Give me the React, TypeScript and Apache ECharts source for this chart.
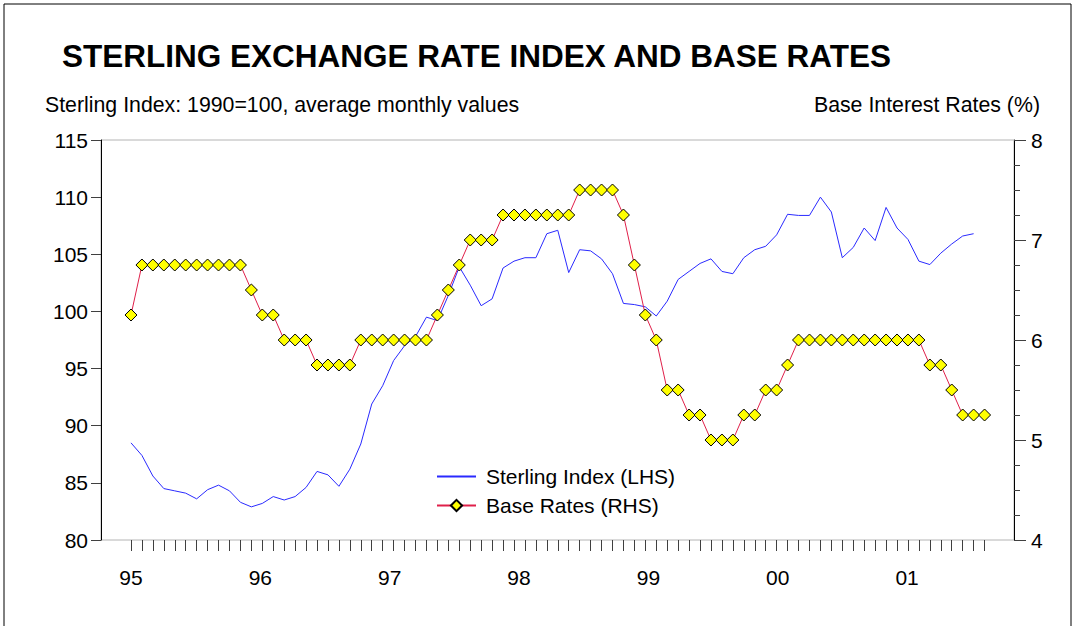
import React, { useEffect, useRef } from "react";
import * as echarts from "echarts";

// Year labels on the x axis (Jan of each year)
const yearLabels = ["95", "96", "97", "98", "99", "00", "01"];

// Sterling exchange rate index, monthly, Jan 1995 – Jun 2001 (1990 = 100)
const sterlingIndex = [
  88.5, 87.4, 85.6, 84.5, 84.3, 84.1, 83.6, 84.4, 84.8, 84.3,
  83.3, 82.9, 83.2, 83.8, 83.5, 83.8, 84.6, 86.0, 85.7, 84.7,
  86.2, 88.4, 91.9, 93.5, 95.7, 97.0, 97.8, 99.5, 99.2, 101.4,
  103.9, 102.3, 100.5, 101.1, 103.8, 104.4, 104.7, 104.7, 106.8, 107.1,
  103.4, 105.4, 105.3, 104.6, 103.3, 100.7, 100.6, 100.4, 99.6, 100.9,
  102.8, 103.5, 104.2, 104.6, 103.5, 103.3, 104.7, 105.4, 105.7, 106.7,
  108.5, 108.4, 108.4, 110.0, 108.7, 104.7, 105.6, 107.3, 106.2, 109.1,
  107.3, 106.3, 104.4, 104.1, 105.1, 105.9, 106.6, 106.8,
];

// UK base rates (%), monthly, Jan 1995 – Jul 2001
const baseRates = [
  6.25, 6.75, 6.75, 6.75, 6.75, 6.75, 6.75, 6.75, 6.75, 6.75,
  6.75, 6.5, 6.25, 6.25, 6.0, 6.0, 6.0, 5.75, 5.75, 5.75,
  5.75, 6.0, 6.0, 6.0, 6.0, 6.0, 6.0, 6.0, 6.25, 6.5,
  6.75, 7.0, 7.0, 7.0, 7.25, 7.25, 7.25, 7.25, 7.25, 7.25,
  7.25, 7.5, 7.5, 7.5, 7.5, 7.25, 6.75, 6.25, 6.0, 5.5,
  5.5, 5.25, 5.25, 5.0, 5.0, 5.0, 5.25, 5.25, 5.5, 5.5,
  5.75, 6.0, 6.0, 6.0, 6.0, 6.0, 6.0, 6.0, 6.0, 6.0,
  6.0, 6.0, 6.0, 5.75, 5.75, 5.5, 5.25, 5.25, 5.25,
];

const seriesNames = ["Sterling Index (LHS)", "Base Rates (RHS)"];

const FONT = "'Liberation Sans', Arial, Helvetica, sans-serif";
const FS = 21;
const LABEL_STEP = 11.82; // spacing of year labels, in months on the axis

export default function App() {
  const ref = useRef<HTMLDivElement>(null);

  useEffect(() => {
    if (!ref.current) return;
    const chart = echarts.init(ref.current, undefined, { renderer: "svg" });
    const monthTicks = baseRates.map((_, i) => i);
    const labelValues = yearLabels.map((_, k) => k * LABEL_STEP);

    chart.setOption({
      animation: false,
      backgroundColor: "#ffffff",
      textStyle: { fontFamily: FONT },
      grid: {
        left: 101,
        right: 62,
        top: 140,
        bottom: 86,
        show: true,
        borderColor: "#b4b4b4",
        borderWidth: 1,
        backgroundColor: "transparent",
      },
      legend: {
        orient: "vertical",
        left: 431,
        top: 461,
        itemWidth: 39,
        itemHeight: 14,
        itemGap: 8,
        data: [
          { name: seriesNames[0], itemStyle: { opacity: 0 } },
          { name: seriesNames[1] },
        ],
        textStyle: {
          fontSize: FS,
          color: "#000",
          fontFamily: FONT,
          padding: [0, 0, 0, 5],
        },
      },
      xAxis: {
        type: "value",
        min: -2.74,
        max: 80.69,
        axisLine: { show: false },
        splitLine: { show: false },
        axisTick: {
          show: true,
          length: 11,
          customValues: monthTicks,
          lineStyle: { color: "#404040", width: 1 },
        },
        axisLabel: {
          customValues: labelValues,
          margin: 27,
          fontSize: FS,
          color: "#000",
          fontFamily: FONT,
          formatter: (v: number) => yearLabels[Math.round(v / LABEL_STEP)] ?? "",
        },
      },
      yAxis: [
        {
          type: "value",
          position: "left",
          min: 80,
          max: 115,
          interval: 5,
          axisLine: { show: true, onZero: false, lineStyle: { color: "#000", width: 1 } },
          axisTick: { show: true, length: 10, lineStyle: { color: "#404040" } },
          splitLine: { show: false },
          axisLabel: { fontSize: FS, color: "#000", margin: 13, fontFamily: FONT },
        },
        {
          type: "value",
          position: "right",
          min: 4,
          max: 8,
          interval: 1,
          axisLine: { show: true, onZero: false, lineStyle: { color: "#000", width: 1 } },
          axisTick: { show: true, length: 12, lineStyle: { color: "#404040" } },
          minorTick: { show: true, splitNumber: 4, length: 6, lineStyle: { color: "#404040" } },
          splitLine: { show: false },
          minorSplitLine: { show: false },
          axisLabel: { fontSize: FS, color: "#000", margin: 17, fontFamily: FONT },
        },
      ],
      graphic: [
        {
          type: "rect",
          shape: { x: 4, y: 4, width: 1067, height: 700 },
          style: { fill: "none", stroke: "#000", lineWidth: 1 },
          silent: true,
        },
        {
          type: "text",
          x: 62,
          y: 56,
          style: {
            text: "STERLING EXCHANGE RATE INDEX AND BASE RATES",
            font: `bold 31.5px ${FONT}`,
            fill: "#000",
            textVerticalAlign: "middle",
            verticalAlign: "middle",
          },
        },
        {
          type: "text",
          x: 45,
          y: 105,
          style: {
            text: "Sterling Index: 1990=100, average monthly values",
            font: `21.3px ${FONT}`,
            fill: "#000",
            textVerticalAlign: "middle",
            verticalAlign: "middle",
          },
        },
        {
          type: "text",
          x: 1040,
          y: 105,
          style: {
            text: "Base Interest Rates (%)",
            font: `21.3px ${FONT}`,
            fill: "#000",
            textAlign: "right",
            align: "right",
            textVerticalAlign: "middle",
            verticalAlign: "middle",
          },
        },
      ],
      series: [
        {
          name: seriesNames[0],
          type: "line",
          yAxisIndex: 0,
          data: sterlingIndex.map((v, i) => [i, v]),
          symbol: "none",
          showSymbol: false,
          lineStyle: { color: "#2a2aff", width: 1 },
          itemStyle: { color: "#2a2aff" },
          z: 2,
        },
        {
          name: seriesNames[1],
          type: "line",
          yAxisIndex: 1,
          data: baseRates.map((v, i) => [i, v]),
          symbol: "diamond",
          symbolSize: 12,
          lineStyle: { color: "#e0204a", width: 1 },
          itemStyle: { color: "#ffff00", borderColor: "#000", borderWidth: 1 },
          z: 3,
        },
      ],
    });
    return () => chart.dispose();
  }, []);

  return (
    <div
      ref={ref}
      style={{ position: "absolute", left: 0, top: 0, width: 1076, height: 626 }}
    />
  );
}
